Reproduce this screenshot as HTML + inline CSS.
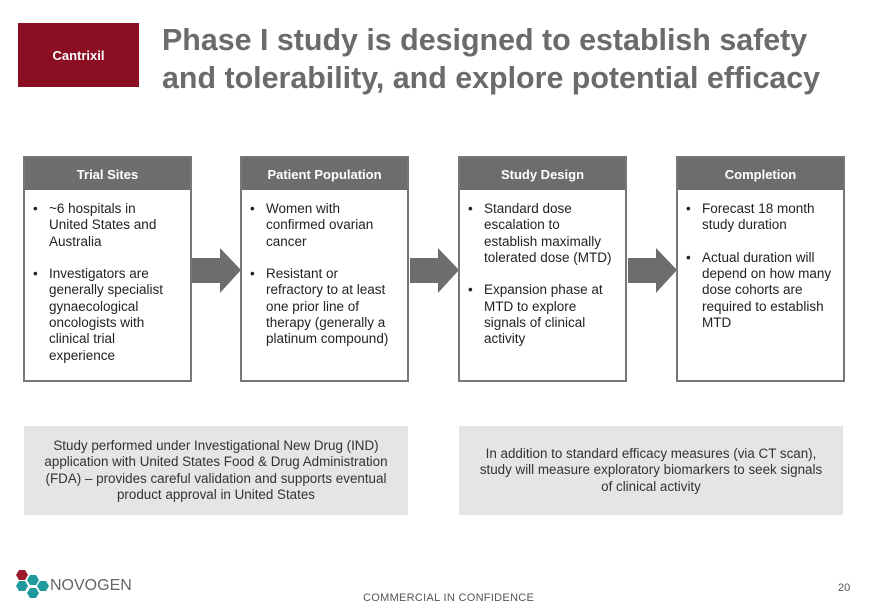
<!DOCTYPE html>
<html><head><meta charset="utf-8"><style>
body{margin:0;width:880px;height:609px;background:#fff;position:relative;overflow:hidden;font-family:"Liberation Sans","DejaVu Sans",sans-serif;color:#222}
.abs{position:absolute}
.red{left:18px;top:23px;width:121px;height:64px;background:#8b0e22;color:#fff;font-weight:bold;font-size:13px;display:flex;align-items:center;justify-content:center}
.title{left:162px;top:21px;font-size:30.4px;font-weight:bold;color:#6b6b6b;line-height:38px;white-space:nowrap}
.box{top:156px;width:165px;height:222px;border:2px solid #777;background:#fff}
.hd{height:32px;background:#6d6d6d;color:#fff;font-weight:bold;font-size:13px;text-align:center;line-height:33px}
ul{margin:11px 0 0 0;padding:0 0 0 24px;font-size:13.5px;line-height:16.3px;white-space:nowrap}
li{margin-bottom:16.3px;list-style:none;position:relative}
li:before{content:"•";position:absolute;left:-16px}
.gb{top:426px;width:384px;height:89px;background:#e5e5e5;font-size:13.4px;line-height:16.5px;text-align:center;display:flex;align-items:center;justify-content:center;color:#333;white-space:nowrap}
</style></head><body>
<div class="abs red">Cantrixil</div>
<div class="abs title">Phase I study is designed to establish safety<br>and tolerability, and explore potential efficacy</div>

<svg class="abs" style="left:0;top:0" width="880" height="609">
<g fill="#6d6d6d">
<polygon points="192,258 220,258 220,248 241,270 220,293 220,283 192,283"/>
<polygon points="410,258 438,258 438,248 459,270 438,293 438,283 410,283"/>
<polygon points="628,258 656,258 656,248 677,270 656,293 656,283 628,283"/>
</g>
<g transform="translate(22,575)"><polygon points="-3,-5 3,-5 6,0 3,5 -3,5 -6,0" fill="#9b1b2c"/></g>
<g fill="#1e9a9c">
<g transform="translate(22,586)"><polygon points="-3,-5 3,-5 6,0 3,5 -3,5 -6,0"/></g>
<g transform="translate(33,580)"><polygon points="-3,-5 3,-5 6,0 3,5 -3,5 -6,0"/></g>
<g transform="translate(33,593)"><polygon points="-3,-5 3,-5 6,0 3,5 -3,5 -6,0"/></g>
<g transform="translate(43,586)"><polygon points="-3,-5 3,-5 6,0 3,5 -3,5 -6,0"/></g>
</g>
</svg>

<div class="abs box" style="left:23px"><div class="hd">Trial Sites</div><ul>
<li>~6 hospitals in<br>United States and<br>Australia</li>
<li>Investigators are<br>generally specialist<br>gynaecological<br>oncologists with<br>clinical trial<br>experience</li></ul></div>
<div class="abs box" style="left:240px"><div class="hd">Patient Population</div><ul>
<li>Women with<br>confirmed ovarian<br>cancer</li>
<li>Resistant or<br>refractory to at least<br>one prior line of<br>therapy (generally a<br>platinum compound)</li></ul></div>
<div class="abs box" style="left:458px"><div class="hd">Study Design</div><ul>
<li>Standard dose<br>escalation to<br>establish maximally<br>tolerated dose (MTD)</li>
<li>Expansion phase at<br>MTD to explore<br>signals of clinical<br>activity</li></ul></div>
<div class="abs box" style="left:676px"><div class="hd">Completion</div><ul>
<li>Forecast 18 month<br>study duration</li>
<li>Actual duration will<br>depend on how many<br>dose cohorts are<br>required to establish<br>MTD</li></ul></div>

<div class="abs gb" style="left:24px">Study performed under Investigational New Drug (IND)<br>application with United States Food &amp; Drug Administration<br>(FDA) – provides careful validation and supports eventual<br>product approval in United States</div>
<div class="abs gb" style="left:459px">In addition to standard efficacy measures (via CT scan),<br>study will measure exploratory biomarkers to seek signals<br>of clinical activity</div>

<div class="abs" style="left:50px;top:577px;font-size:16px;color:#666">NOVOGEN</div>
<div class="abs" style="left:363px;top:592px;font-size:11px;color:#555;letter-spacing:0.3px">COMMERCIAL IN CONFIDENCE</div>
<div class="abs" style="left:838px;top:582px;font-size:11px;color:#555">20</div>
</body></html>
